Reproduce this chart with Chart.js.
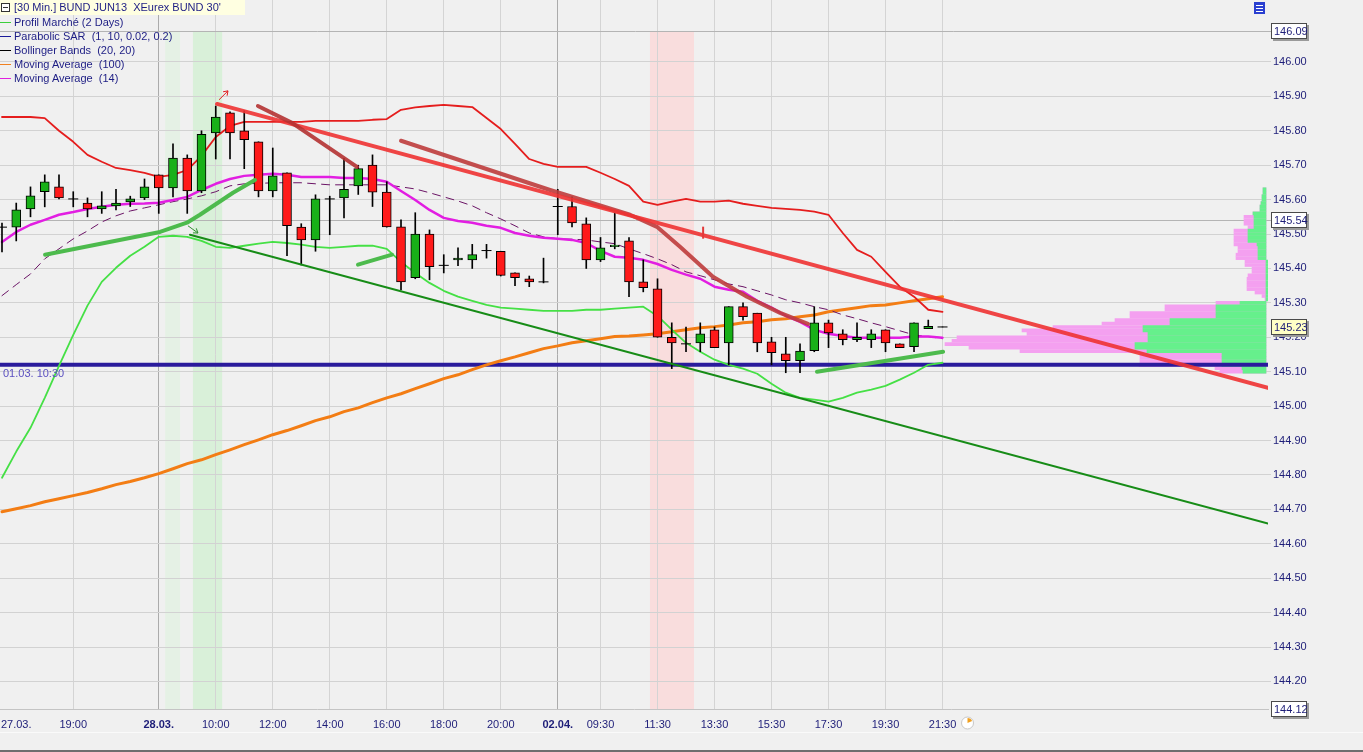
<!DOCTYPE html>
<html><head><meta charset="utf-8">
<script src="https://cdn.jsdelivr.net/npm/chart.js@4.4.1/dist/chart.umd.min.js"></script>
<style>
html,body{margin:0;padding:0;background:#f0f0f0;overflow:hidden}
#wrap{position:relative;width:1363px;height:752px}
canvas{position:absolute;left:0;top:0}
#legend{position:absolute;left:0;top:0;font:11px 'Liberation Sans',Arial,sans-serif;color:#1d1d84}
.row{position:absolute;left:0;height:14px;line-height:14px;white-space:pre}
.row i{position:absolute;left:0;top:7px;width:11px;height:1px}
.row span{position:absolute;left:14px;top:0}
#title{background:#ffffe1;width:245px;height:15px;line-height:15px}
.ico{position:absolute;left:1px;top:3px;width:7px;height:7px;border:1px solid #333;background:#fff}
.ico:after{content:"";position:absolute;left:1px;top:3px;width:5px;height:1px;background:#333}
</style></head>
<body>
<div id="wrap">
<canvas id="c" width="1363" height="752"></canvas>
<div id="legend">
 <div class="row" id="title" style="top:0"><b class="ico"></b><span>[30 Min.] BUND JUN13  XEurex BUND 30'</span></div>
 <div class="row" style="top:15px"><i style="background:#3ccf3c"></i><span>Profil Marché (2 Days)</span></div>
 <div class="row" style="top:29px"><i style="background:#1a1a9a"></i><span>Parabolic SAR  (1, 10, 0.02, 0.2)</span></div>
 <div class="row" style="top:43px"><i style="background:#000"></i><span>Bollinger Bands  (20, 20)</span></div>
 <div class="row" style="top:57px"><i style="background:#f08020"></i><span>Moving Average  (100)</span></div>
 <div class="row" style="top:71px"><i style="background:#e020e0"></i><span>Moving Average  (14)</span></div>
</div>
</div>
<script>
// ---------- DATA ----------
const xTickIndex  = [1,5,11,15,19,23,27,31,35,39,42,46,50,54,58,62,66];
const xTickLabels = ['27.03.','19:00','28.03.','10:00','12:00','14:00','16:00','18:00','20:00','02.04.','09:30','11:30','13:30','15:30','17:30','19:30','21:30'];
const boldLabels  = ['28.03.','02.04.'];
const yTickValues = [144.2,144.3,144.4,144.5,144.6,144.7,144.8,144.9,145.0,145.1,145.2,145.3,145.4,145.5,145.6,145.7,145.8,145.9,146.0];

const open = [145.52,145.52,145.573,145.623,145.637,145.602,145.59,145.573,145.582,145.593,145.605,
 145.672,145.634,145.721,145.625,145.794,145.852,145.80,145.768,145.625,145.678,145.52,145.483,145.602,145.605,145.64,145.70,145.622,145.521,145.373,145.50,145.409,145.425,145.425,145.452,145.45,145.387,145.37,145.361,
 145.58,145.58,145.53,145.425,145.463,145.48,145.361,145.341,145.20,145.181,145.184,145.222,145.184,145.289,145.27,145.187,145.152,145.132,145.161,145.242,145.21,145.193,145.193,145.222,145.181,145.173,145.225,145.23];
const high = [145.532,145.59,145.637,145.672,145.672,145.623,145.605,145.623,145.63,145.61,145.66,
 145.672,145.762,145.73,145.80,145.872,145.855,145.858,145.768,145.75,145.678,145.53,145.614,145.61,145.72,145.70,145.73,145.652,145.541,145.562,145.512,145.44,145.46,145.47,145.47,145.45,145.387,145.378,145.43,
 145.63,145.608,145.547,145.49,145.562,145.49,145.425,145.37,145.242,145.23,145.242,145.23,145.289,145.30,145.27,145.20,145.20,145.181,145.289,145.25,145.222,145.242,145.222,145.222,145.181,145.242,145.25,145.23];
const low = [145.448,145.48,145.55,145.579,145.602,145.579,145.55,145.56,145.57,145.58,145.60,
 145.56,145.608,145.56,145.62,145.718,145.718,145.69,145.608,145.608,145.437,145.41,145.45,145.498,145.547,145.615,145.58,145.52,145.338,145.37,145.367,145.387,145.408,145.40,145.43,145.378,145.35,145.347,145.358,
 145.498,145.521,145.40,145.42,145.457,145.318,145.332,145.20,145.109,145.158,145.158,145.17,145.12,145.25,145.158,145.12,145.097,145.097,145.158,145.17,145.178,145.187,145.17,145.158,145.17,145.158,145.225,145.23];
const close = [145.52,145.57,145.611,145.652,145.605,145.602,145.573,145.582,145.59,145.602,145.637,
 145.634,145.721,145.625,145.79,145.84,145.794,145.774,145.625,145.669,145.524,145.483,145.602,145.602,145.63,145.69,145.622,145.521,145.361,145.50,145.405,145.409,145.43,145.44,145.452,145.38,145.373,145.361,145.361,
 145.58,145.532,145.425,145.46,145.468,145.361,145.344,145.20,145.184,145.181,145.21,145.17,145.289,145.26,145.184,145.155,145.132,145.16,145.242,145.213,145.193,145.20,145.21,145.184,145.17,145.242,145.232,145.23];

const bbUpper = [145.84,145.84,145.84,145.837,145.80,145.768,145.73,145.71,145.692,145.686,145.678,
 145.666,145.672,145.686,145.727,145.782,145.814,145.826,145.826,145.826,145.826,145.826,145.829,145.829,145.829,145.829,145.832,145.834,145.861,145.868,145.872,145.875,145.872,145.869,145.837,145.805,145.762,145.718,145.704,
 145.695,145.695,145.695,145.678,145.66,145.64,145.594,145.585,145.594,145.602,145.594,145.594,145.597,145.588,145.582,145.576,145.573,145.57,145.565,145.556,145.503,145.454,145.434,145.39,145.347,145.318,145.28,145.274];
const bbMiddle = [145.321,145.353,145.384,145.428,145.457,145.486,145.509,145.535,145.553,145.567,145.576,
 145.585,145.594,145.602,145.611,145.623,145.640,145.646,145.647,145.649,145.649,145.649,145.646,145.643,145.643,145.643,145.643,145.643,145.637,145.631,145.620,145.608,145.596,145.582,145.562,145.544,145.524,145.503,145.492,
 145.486,145.485,145.483,145.477,145.472,145.457,145.443,145.428,145.411,145.390,145.379,145.367,145.355,145.347,145.335,145.323,145.309,145.300,145.289,145.280,145.265,145.254,145.242,145.231,145.219,145.207,145.202,145.196];
const bbLower = [144.792,144.868,144.937,145.024,145.117,145.207,145.292,145.361,145.402,145.437,145.463,
 145.492,145.495,145.492,145.480,145.463,145.460,145.466,145.472,145.477,145.474,145.469,145.463,145.460,145.463,145.466,145.466,145.457,145.419,145.387,145.358,145.335,145.318,145.306,145.294,145.286,145.283,145.280,145.277,
 145.277,145.277,145.280,145.280,145.283,145.286,145.289,145.262,145.222,145.184,145.158,145.135,145.120,145.109,145.094,145.065,145.039,145.024,145.019,145.013,145.024,145.039,145.048,145.059,145.077,145.097,145.120,145.126];
const ma100 = [144.693,144.702,144.711,144.722,144.731,144.740,144.749,144.760,144.772,144.781,144.792,
 144.804,144.818,144.833,144.844,144.859,144.873,144.888,144.902,144.917,144.929,144.943,144.958,144.969,144.984,144.995,145.010,145.024,145.036,145.051,145.065,145.080,145.091,145.106,145.120,145.132,145.143,145.155,145.167,
 145.175,145.184,145.190,145.196,145.202,145.204,145.207,145.210,145.216,145.222,145.228,145.231,145.236,145.242,145.245,145.251,145.254,145.260,145.265,145.274,145.280,145.286,145.292,145.294,145.300,145.306,145.312,145.318];
const ma14 = [145.477,145.506,145.527,145.541,145.556,145.564,145.573,145.579,145.585,145.588,145.589,
 145.591,145.599,145.608,145.628,145.646,145.660,145.669,145.672,145.675,145.672,145.666,145.666,145.666,145.663,145.663,145.660,145.652,145.625,145.599,145.570,145.547,145.538,145.533,145.524,145.518,145.503,145.495,145.489,
 145.486,145.483,145.474,145.451,145.434,145.431,145.425,145.413,145.396,145.382,145.370,145.347,145.338,145.332,145.306,145.286,145.262,145.245,145.222,145.210,145.204,145.199,145.199,145.199,145.199,145.202,145.202,145.199];

const sarLevel = 145.12;              // horizontal level "01.03. 10:30"
const sarLabel = '01.03. 10:30';

// Market profile (2 days): price levels, total TPO and latest-day TPO
const profilePrices = [145.63,145.62,145.61,145.60,145.59,145.58,145.57,145.56,145.55,145.54,145.53,145.52,145.51,145.50,145.49,145.48,145.47,145.46,145.45,145.44,145.43,145.42,145.41,145.40,145.39,145.38,145.37,145.36,145.35,145.34,145.33,145.32,145.31,145.30,145.29,145.28,145.27,145.26,145.25,145.24,145.23,145.22,145.21,145.20,145.19,145.18,145.17,145.16,145.15,145.14,145.13,145.12,145.11,145.10];
const profileTotal  = [0.5,0.5,0.6,0.6,0.7,0.8,0.8,1.5,2.4,2.4,2.4,2.0,3.4,3.4,3.4,3.4,3.4,3.0,3.0,3.2,3.2,2.3,2.3,1.6,1.6,2.0,2.1,2.1,2.1,2.1,1.3,0.6,0.3,5.2,10.3,10.3,13.8,13.8,15.3,16.6,21.5,24.6,24.1,31.1,31.6,32.3,29.9,24.8,12.8,12.8,12.8,12.9,5.3,4.8];
const profileDay2   = [0.5,0.5,0.6,0.6,0.7,0.8,0.8,1.5,1.4,1.4,1.4,1.4,2.0,2.0,2.0,2.0,1.1,1.0,1.0,1.0,1.0,0,0,0,0,0,0,0,0,0,0,0,0,2.8,5.2,5.2,5.2,5.2,9.8,9.8,12.5,12.5,12.0,12.0,12.0,13.3,13.3,12.1,4.6,4.6,4.6,4.6,2.6,2.5];

// Drawn trendlines (bar index, price)
const trendRed   = [[15.09,145.878],[88.84,145.053]];
const trendGreen = [[13.19,145.498],[88.84,144.659]];
const brownA = [[17.96,145.872],[20.35,145.823],[24.91,145.695]];
const brownB = [[28.0,145.771],[38.46,145.628],[44.07,145.556],[45.96,145.521],[47.58,145.463],[49.89,145.376],[52.28,145.318],[54.60,145.271],[56.56,145.239]];
const greenA = [[3.02,145.440],[11.09,145.506],[12.98,145.533],[13.89,145.556],[16.21,145.620],[17.75,145.657]];
const greenB = [[24.98,145.411],[27.37,145.440]];
const greenC = [[57.19,145.100],[66.04,145.158]];

// Highlighted bar ranges (bar index from / to)
const bandsGreenLight = [[11.45,12.5]];
const bandsGreen      = [[13.4,15.45]];
const bandsRed        = [[45.47,48.56]];
const bandTop = 146.09;

const markerLevels = [146.09,145.54,145.23,144.12];
const lineLevels   = [146.09,145.54];

// ---------- CHART ----------
const xMin = -0.14, xMax = 88.84, yMin = 144.12, yMax = 146.18;
const FONT = "'Liberation Sans', Arial, sans-serif";
const NAVY = '#1d1d78';

const xy = arr => arr.map(p => ({x:p[0], y:p[1]}));
const series = arr => arr.map((v,i) => ({x:i, y:v}));

const bodyIdx = open.map((o,i)=>i).filter(i => open[i] !== close[i]);
const dojiIdx = open.map((o,i)=>i).filter(i => open[i] === close[i]);

function lineDs(data, color, width, order, extra) {
  return Object.assign({type:'line', data, borderColor:color, borderWidth:width, pointRadius:0, pointHoverRadius:0,
    tension:0, fill:false, order, borderCapStyle:'round', borderJoinStyle:'round'}, extra||{});
}

const datasets = [
  {type:'bar', indexAxis:'y', xAxisID:'xp', yAxisID:'y', order:200, grouped:false, barThickness:3,
   data: profilePrices.map((p,i)=>({x:[0.2, profileTotal[i]], y:p})), backgroundColor:'rgb(244,160,240)', borderWidth:0},
  {type:'bar', indexAxis:'y', xAxisID:'xp', yAxisID:'y', order:199, grouped:false, barThickness:3,
   data: profilePrices.map((p,i)=>({x:[0.2, profileDay2[i]], y:p})), backgroundColor:'rgb(102,240,140)', borderWidth:0},
  lineDs([{x:xMin,y:sarLevel},{x:xMax,y:sarLevel}], '#2a1b9c', 4, 150, {borderCapStyle:'butt'}),
  lineDs(series(ma100), '#f37d14', 3, 120),
  lineDs(series(bbUpper), '#e51d1d', 1.8, 118),
  lineDs(series(bbLower), '#45e045', 1.8, 117),
  lineDs(series(bbMiddle), '#6b1466', 1, 116, {borderDash:[8,6]}),
  lineDs(series(ma14), '#e21ee2', 2.5, 115),
  {type:'bar', order:60, grouped:false, barThickness:1, xAxisID:'x', yAxisID:'y',
   data: open.map((o,i)=>({x:i, y:[low[i], high[i]]})), backgroundColor:'#000', borderWidth:0},
  {type:'bar', order:59, grouped:false, barThickness:9, xAxisID:'x', yAxisID:'y',
   data: bodyIdx.map(i=>({x:i, y:[Math.min(open[i],close[i]), Math.max(open[i],close[i])]})),
   backgroundColor: bodyIdx.map(i=> close[i] > open[i] ? '#18b018' : '#ff1a1a'),
   borderColor:'#000', borderWidth:1, borderSkipped:false},
  {type:'line', order:58, showLine:false, data: dojiIdx.map(i=>({x:i, y:close[i]})),
   pointStyle:'line', pointRadius:5, pointHoverRadius:0, pointBorderWidth:1, pointBorderColor:'#000', pointBackgroundColor:'#000'},
  lineDs(xy(trendGreen), '#178c17', 2, 30),
  lineDs(xy(greenA), '#4dbb4d', 4, 29),
  lineDs(xy(greenB), '#4dbb4d', 4, 29),
  lineDs(xy(greenC), '#4dbb4d', 4, 29),
  lineDs(xy(brownB), 'rgba(190,60,60,0.9)', 4, 28),
  lineDs(xy(trendRed), 'rgba(238,50,50,0.9)', 4, 27),
  lineDs(xy(brownA), 'rgba(180,50,50,0.9)', 4, 26),
];

const noPad = s => { s.paddingTop = 0; s.paddingBottom = 0; s.paddingLeft = 0; s.paddingRight = 0; };

const decor = {
  id:'decor',
  beforeDraw(chart){
    const {ctx, chartArea:a, scales:{x,y}} = chart;
    ctx.save();
    ctx.fillStyle='#f0f0f0'; ctx.fillRect(0,0,chart.width,chart.height);
    const top = y.getPixelForValue(bandTop);
    const fillBands = (list, col) => list.forEach(b=>{
      const x0=x.getPixelForValue(b[0]), x1=x.getPixelForValue(b[1]);
      ctx.fillStyle=col; ctx.fillRect(x0, top, x1-x0, a.bottom-top);
    });
    fillBands(bandsGreenLight,'#e5f1e5');
    fillBands(bandsGreen,'#d9f0d9');
    fillBands(bandsRed,'#f9dddd');
    ctx.fillStyle='#fafafa'; ctx.fillRect(0, chart.height-20, chart.width, 1);
    ctx.fillStyle='#6e6e6e'; ctx.fillRect(0, chart.height-2, chart.width, 2);
    ctx.restore();
  },
  beforeDatasetsDraw(chart){
    const {ctx, chartArea:a, scales:{y}} = chart;
    ctx.save();
    ctx.strokeStyle='#b4b4b4'; ctx.lineWidth=1;
    lineLevels.forEach(v=>{
      const py=Math.round(y.getPixelForValue(v))+0.5;
      ctx.beginPath(); ctx.moveTo(a.left,py); ctx.lineTo(a.right+3,py); ctx.stroke();
    });
    ctx.restore();
  },
  afterDraw(chart){
    const {ctx, chartArea:a, scales:{x,y}} = chart;
    ctx.save();
    ctx.font='11px '+FONT; ctx.fillStyle='#5a4fc0'; ctx.textBaseline='middle';
    ctx.fillText(sarLabel, a.left+3, y.getPixelForValue(sarLevel)+9);
    const arrow = (x0,y0,x1,y1,col) => {
      const X0=x.getPixelForValue(x0), Y0=y.getPixelForValue(y0), X1=x.getPixelForValue(x1), Y1=y.getPixelForValue(y1);
      ctx.strokeStyle=col; ctx.lineWidth=1; ctx.beginPath(); ctx.moveTo(X0,Y0); ctx.lineTo(X1,Y1);
      const ang=Math.atan2(Y1-Y0,X1-X0);
      ctx.moveTo(X1,Y1); ctx.lineTo(X1-5*Math.cos(ang-0.6), Y1-5*Math.sin(ang-0.6));
      ctx.moveTo(X1,Y1); ctx.lineTo(X1-5*Math.cos(ang+0.6), Y1-5*Math.sin(ang+0.6));
      ctx.stroke();
    };
    arrow(15.23,145.890,15.86,145.916,'#e02020');
    arrow(13.05,145.524,13.75,145.503,'#2f8f2f');
    const tx=x.getPixelForValue(49.2), ty=y.getPixelForValue(145.504);
    ctx.strokeStyle='#e23a3a'; ctx.lineWidth=2; ctx.beginPath(); ctx.moveTo(tx,ty-6); ctx.lineTo(tx,ty+6); ctx.stroke();
    markerLevels.forEach((v,k)=>{
      const py=Math.round(y.getPixelForValue(v));
      const bx=a.right+3, bw=36, bh=16, by=py-8;
      ctx.fillStyle='#9a9a9a'; ctx.fillRect(bx+2,by+2,bw,bh);
      ctx.fillStyle= v===145.23 ? '#ffffc6' : '#ffffff'; ctx.fillRect(bx,by,bw,bh);
      ctx.strokeStyle='#4a4a4a'; ctx.lineWidth=1; ctx.strokeRect(bx+0.5,by+0.5,bw-1,bh-1);
      ctx.fillStyle=NAVY; ctx.font='11px '+FONT; ctx.textBaseline='middle'; ctx.textAlign='left';
      ctx.fillText(v.toFixed(2), bx+3, py+1);
    });
    const cx=x.getPixelForValue(66)+25, cy=a.bottom+14;
    ctx.fillStyle='#fff'; ctx.strokeStyle='#c8c8c8'; ctx.lineWidth=1;
    ctx.beginPath(); ctx.arc(cx,cy,6,0,Math.PI*2); ctx.fill(); ctx.stroke();
    ctx.fillStyle='#f0a020'; ctx.beginPath(); ctx.moveTo(cx,cy); ctx.arc(cx,cy,5,-Math.PI/2,-Math.PI/8); ctx.closePath(); ctx.fill();
    ctx.fillStyle='#2a3fd0'; ctx.fillRect(1254,2,11,12);
    ctx.fillStyle='#fff';
    for(let r=0;r<3;r++) ctx.fillRect(1256,5+r*3,7,1);
    ctx.restore();
  }
};

new Chart(document.getElementById('c'), {
  type:'line',
  data:{datasets},
  options:{
    responsive:false, animation:false, devicePixelRatio:1, events:[],
    layout:{padding:0, autoPadding:false},
    plugins:{legend:{display:false}, tooltip:{enabled:false}},
    scales:{
      x:{type:'linear', min:xMin, max:xMax, offset:false, position:'bottom',
         afterFit:s=>{s.height=43; noPad(s);},
         afterBuildTicks:s=>{s.ticks=xTickIndex.map(v=>({value:v}));},
         grid:{drawTicks:false, lineWidth:1, offset:false,
           color:c=>{ const lab = c.tick ? xTickLabels[xTickIndex.indexOf(c.tick.value)] : '';
                      if (lab==='27.03.') return 'rgba(0,0,0,0)';
                      return boldLabels.includes(lab) ? '#ababab' : '#d4d4d4'; }},
         border:{display:true, color:'#c4c4c4'},
         ticks:{padding:9, autoSkip:false, maxRotation:0, minRotation:0, color:NAVY,
           font:c=>{ const lab = c.tick ? xTickLabels[xTickIndex.indexOf(c.tick.value)] : '';
                     return {family:FONT, size:11, weight: boldLabels.includes(lab)?'bold':'normal'}; },
           callback:v=>{ const k=xTickIndex.indexOf(v); return k<0?'':xTickLabels[k]; }}},
      xp:{type:'linear', axis:'x', position:'bottom', display:false, reverse:true, min:0, max:126.8, offset:false,
          grid:{offset:false}, afterFit:noPad},
      y:{type:'linear', position:'right', min:yMin, max:yMax, offset:false,
         afterFit:s=>{s.width=95; noPad(s);},
         afterBuildTicks:s=>{s.ticks=yTickValues.map(v=>({value:v}));},
         grid:{color:'#d2d2d2', tickLength:3, lineWidth:1, offset:false},
         border:{display:false},
         ticks:{padding:2, color:NAVY, font:{family:FONT, size:11}, callback:v=>v.toFixed(2)}}
    }
  },
  plugins:[decor]
});
</script>
</body></html>
